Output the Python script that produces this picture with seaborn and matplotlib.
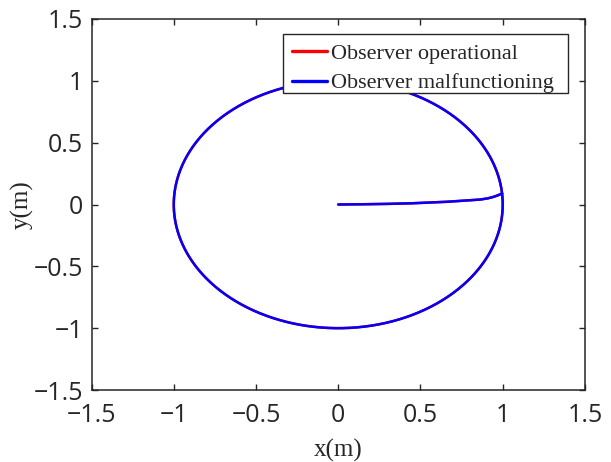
import numpy as np
import pandas as pd
import matplotlib
matplotlib.use("Agg")
import matplotlib.pyplot as plt
from matplotlib.patches import Rectangle
import seaborn as sns

# Approach segment from the origin out to the reference circle
approach_x = [0.0, 0.15, 0.30, 0.45, 0.56, 0.66, 0.74, 0.80, 0.863, 0.91, 0.942, 0.97, 0.995]
approach_y = [0.0, 0.002, 0.005, 0.010, 0.016, 0.022, 0.029, 0.034, 0.040, 0.050, 0.061, 0.074, 0.089]

# Reference circle followed afterwards
circle_radius = 1.0
circle_center = (0.0, 0.0)

series_names = ["Observer operational", "Observer malfunctioning"]
series_colors = ["#ff0000", "#0000ff"]

axis_ticks = [-1.5, -1, -0.5, 0, 0.5, 1, 1.5]
tick_labels = ["\u22121.5", "\u22121", "\u22120.5", "0", "0.5", "1", "1.5"]

# Build the trajectory: approach then one loop around the circle
start_angle = np.arctan2(approach_y[-1], approach_x[-1])
theta = start_angle + np.linspace(0.0, 2 * np.pi, 721)
traj_x = np.concatenate([approach_x, circle_center[0] + circle_radius * np.cos(theta)])
traj_y = np.concatenate([approach_y, circle_center[1] + circle_radius * np.sin(theta)])
order = np.arange(len(traj_x))

frames = []
for name in series_names:
    frames.append(pd.DataFrame({"x": traj_x, "y": traj_y, "t": order, "series": name}))
df = pd.concat(frames, ignore_index=True)

sns.set_theme(style="ticks")
plt.rcParams["font.family"] = ["Open Sans", "DejaVu Sans"]
plt.rcParams["xtick.direction"] = "in"
plt.rcParams["ytick.direction"] = "in"

fig = plt.figure(figsize=(6.11, 4.62), dpi=100)
ax = fig.add_axes([0.1498, 0.1558, 0.8076, 0.8031])

sns.lineplot(data=df, x="x", y="y", hue="series", hue_order=series_names,
             palette=series_colors, sort=False, estimator=None, units="series",
             linewidth=1.8, ax=ax, legend=True)

ax.set_xlim(-1.5, 1.5)
ax.set_ylim(-1.5, 1.5)
ax.set_xticks(axis_ticks)
ax.set_yticks(axis_ticks)
ax.set_xticklabels(tick_labels)
ax.set_yticklabels(tick_labels)
ax.tick_params(axis="both", which="both", direction="in", length=4.5, width=1.0,
               color="#262626", labelcolor="#262626", labelsize=18,
               top=True, right=True)
ax.tick_params(axis="x", pad=9)
ax.tick_params(axis="y", pad=6)

for side in ["left", "bottom", "top", "right"]:
    ax.spines[side].set_visible(True)
    ax.spines[side].set_color("#262626")
    ax.spines[side].set_linewidth(1.1)

serif = ["Liberation Serif", "DejaVu Serif"]
ax.set_xlabel("x(m)", family=serif, fontsize=18, color="#262626", labelpad=8)
ax.set_ylabel("y(m)", family=serif, fontsize=18, color="#262626", labelpad=0)

# Legend box with generous right margin, entries placed inside it
box_left, box_top, box_right, box_bottom = 283 / 611, 1 - 34 / 462, 568 / 611, 1 - 93 / 462
frame = Rectangle((box_left, box_bottom), box_right - box_left, box_top - box_bottom,
                  transform=fig.transFigure, facecolor="white", edgecolor="#262626",
                  linewidth=1.0, zorder=4, clip_on=False)
ax.add_patch(frame)

leg = ax.legend(loc="upper left", bbox_to_anchor=(box_left, box_top),
                bbox_transform=fig.transFigure, frameon=False,
                prop={"family": serif, "size": 16}, handlelength=1.55,
                handletextpad=0.2, borderpad=0.42, labelspacing=0.4,
                borderaxespad=0.0)
leg.set_zorder(5)
for line in leg.get_lines():
    line.set_linewidth(2.4)

fig.savefig("out.png", dpi=100)
